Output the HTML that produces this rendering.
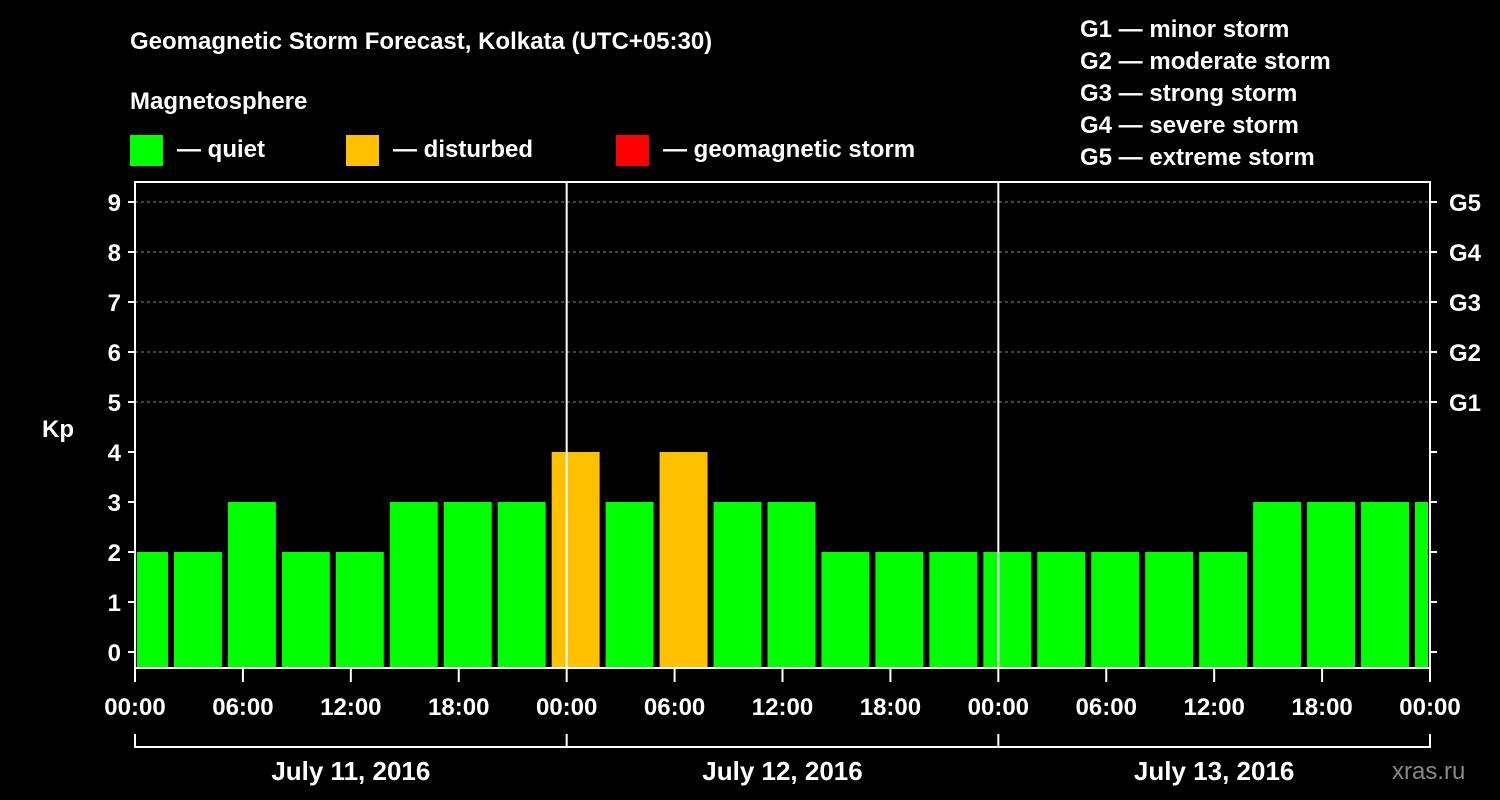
<!DOCTYPE html>
<html><head><meta charset="utf-8"><style>
body{margin:0;background:#000;width:1500px;height:800px;overflow:hidden}
svg{display:block;font-family:"Liberation Sans",sans-serif;font-weight:bold}
</style></head><body>
<svg id="chart" width="1500" height="800">
<rect width="1500" height="800" fill="#000"/>
<text x="130" y="49" fill="#fff" font-size="24">Geomagnetic Storm Forecast, Kolkata (UTC+05:30)</text>
<text x="130" y="109" fill="#fff" font-size="24">Magnetosphere</text>
<g font-size="24" fill="#fff">
<rect x="130" y="135" width="33" height="31" fill="#00ff00"/>
<text x="177" y="157">— quiet</text>
<rect x="346" y="135" width="33" height="31" fill="#ffc000"/>
<text x="393" y="157">— disturbed</text>
<rect x="616" y="135" width="33" height="31" fill="#ff0000"/>
<text x="663" y="157">— geomagnetic storm</text>
</g>
<g font-size="24" fill="#fff">
<text x="1080" y="37">G1 — minor storm</text>
<text x="1080" y="69">G2 — moderate storm</text>
<text x="1080" y="101">G3 — strong storm</text>
<text x="1080" y="133">G4 — severe storm</text>
<text x="1080" y="165">G5 — extreme storm</text>
</g>
<g id="grid"></g><g id="bars"></g><g id="axes"></g>
<text x="42" y="437" fill="#fff" font-size="24">Kp</text>
<text x="1392" y="779" fill="#888" font-size="24" font-weight="normal">xras.ru</text>
</svg>
<script>
const kpValues=[2,2,3,2,2,3,3,3,4,3,4,3,3,2,2,2,2,2,2,2,2,3,3,3,3];
const dayLabels=["July 11, 2016","July 12, 2016","July 13, 2016"];
const timeLabels=["00:00","06:00","12:00","18:00","00:00","06:00","12:00","18:00","00:00","06:00","12:00","18:00","00:00"];
const gLabels=["G1","G2","G3","G4","G5"];
const NS="http://www.w3.org/2000/svg";
const L=135,R=1430,T=182,B=668;
const y=k=>652-50*k;
const pxH=(R-L)/72; // per hour
const x=h=>L+h*pxH;
function mk(tag,at,parent){const e=document.createElementNS(NS,tag);for(const k in at)e.setAttribute(k,at[k]);parent.appendChild(e);return e;}
const grid=document.getElementById('grid'),bars=document.getElementById('bars'),axes=document.getElementById('axes');
for(let k=5;k<=9;k++){const g=mk('line',{x1:L,x2:R,y1:y(k),y2:y(k),stroke:'#888','stroke-dasharray':'3,3'},grid);

}
kpValues.forEach((v,i)=>{
  const h0=-1+3*i;
  let x0=x(h0)+3,x1=x(h0+3)-3;
  x0=Math.max(x0,L+2);x1=Math.min(x1,R-2);
  const r=mk('rect',{x:x0,y:y(v),width:x1-x0,height:B-y(v),fill:v>=5?'#ff0000':(v>=4?'#ffc000':'#00ff00')},bars);
  
  
});
mk('rect',{x:L,y:T,width:R-L,height:B-T,fill:'none',stroke:'#fff','stroke-width':2},axes);
[1,2].forEach(d=>{const l=mk('line',{x1:x(24*d),x2:x(24*d),y1:T,y2:B,stroke:'#fff','stroke-width':2},axes);

});
for(let k=0;k<=9;k++){
  mk('line',{x1:L-7,x2:L,y1:y(k),y2:y(k),stroke:'#fff','stroke-width':2},axes);
  mk('line',{x1:R,x2:R+7,y1:y(k),y2:y(k),stroke:'#fff','stroke-width':2},axes);
  const t=mk('text',{x:L-14,y:y(k)+9,fill:'#fff','font-size':24,'text-anchor':'end'},axes);t.textContent=k;
  
  
}
gLabels.forEach((g,i)=>{const t=mk('text',{x:R+19,y:y(5+i)+9,fill:'#fff','font-size':24},axes);t.textContent=g;

});
timeLabels.forEach((s,i)=>{
  mk('line',{x1:x(6*i),x2:x(6*i),y1:B,y2:B+14,stroke:'#fff','stroke-width':2},axes);
  const t=mk('text',{x:x(6*i),y:715,fill:'#fff','font-size':24,'text-anchor':'middle'},axes);t.textContent=s;
  
  
});
mk('line',{x1:L,x2:R,y1:747,y2:747,stroke:'#fff','stroke-width':2},axes);
for(let d=0;d<=3;d++)mk('line',{x1:x(24*d),x2:x(24*d),y1:734,y2:748,stroke:'#fff','stroke-width':2},axes);
dayLabels.forEach((s,d)=>{const t=mk('text',{x:x(24*d+12),y:780,fill:'#fff','font-size':26,'text-anchor':'middle'},axes);t.textContent=s;

});
</script>
</body></html>
